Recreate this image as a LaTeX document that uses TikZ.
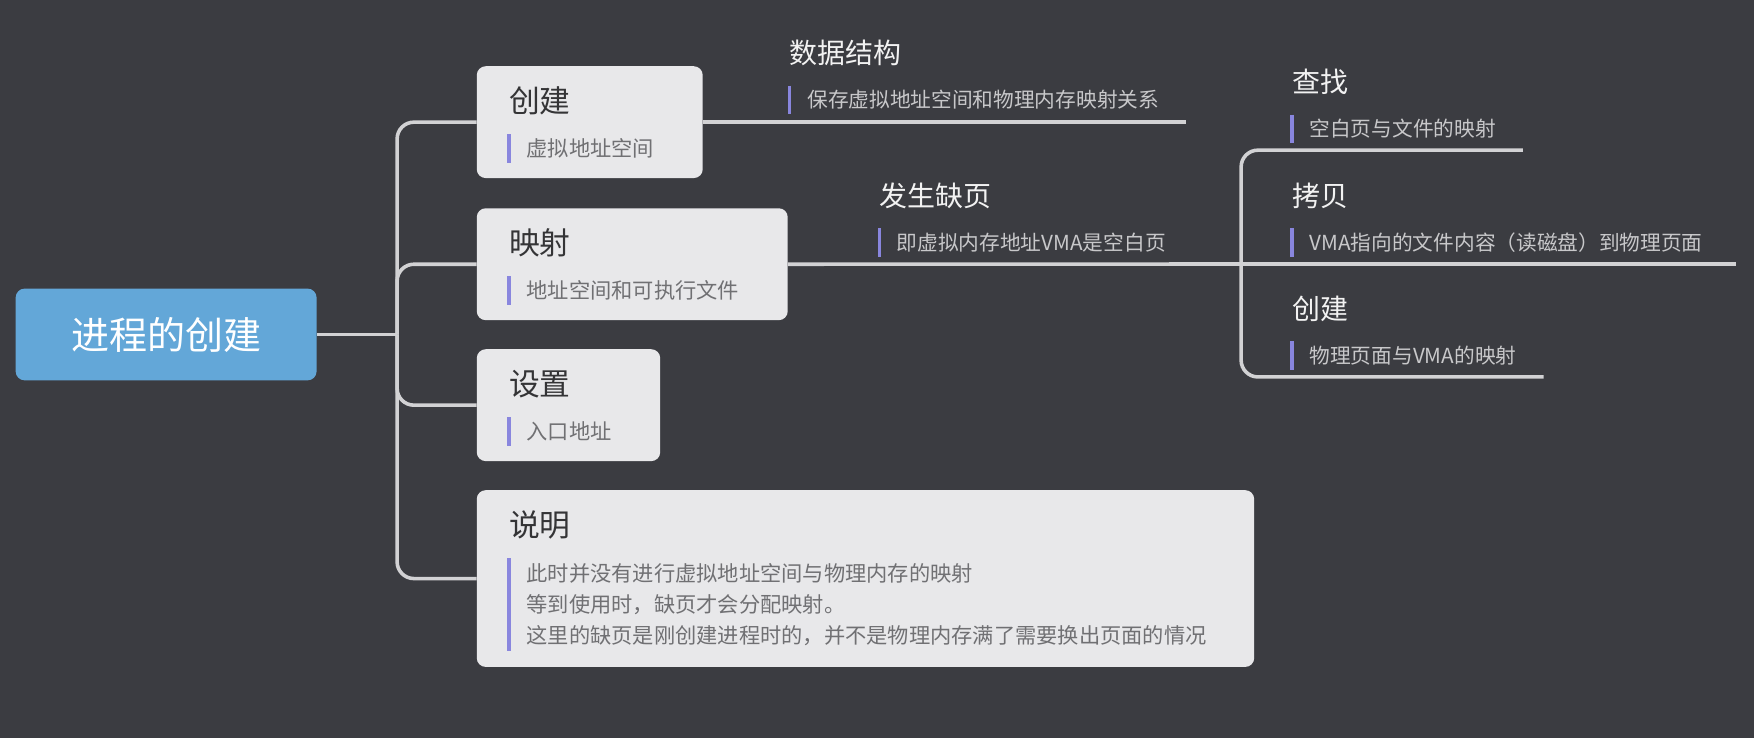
\documentclass[tikz,border=0pt]{standalone}
\usepackage{fontspec}
\setmainfont{Noto Sans CJK SC}
\usetikzlibrary{positioning,calc,backgrounds}
\definecolor{bgdark}{RGB}{59,60,65}
\definecolor{rootblue}{RGB}{99,167,216}
\definecolor{boxgray}{RGB}{232,232,234}
\definecolor{linegray}{RGB}{210,210,212}
\definecolor{titledark}{RGB}{52,52,54}
\definecolor{notegray}{RGB}{112,112,115}
\definecolor{subwhite}{RGB}{242,242,242}
\definecolor{subgray}{RGB}{200,200,202}
\definecolor{barpurple}{RGB}{137,134,222}
\tikzstyle{rootbox} = [rectangle, rounded corners=8pt, fill=rootblue, minimum width=269pt, minimum height=82pt, text=white, font=\fontsize{34}{40}\selectfont]
\tikzstyle{topicbox} = [rectangle, rounded corners=8pt, fill=boxgray, minimum height=100pt, anchor=north west, inner sep=0pt]
\tikzstyle{boxtitle} = [anchor=base west, inner sep=0pt, text=titledark, font=\fontsize{27.5}{33}\selectfont]
\tikzstyle{boxnote} = [anchor=base west, inner sep=0pt, text=notegray, align=left, font=\fontsize{19}{28}\selectfont]
\tikzstyle{subtitle} = [anchor=base west, inner sep=0pt, text=subwhite, font=\fontsize{25}{30}\selectfont]
\tikzstyle{subnote} = [anchor=base west, inner sep=0pt, text=subgray, font=\fontsize{18.5}{26}\selectfont]
\tikzstyle{branch} = [line width=3.2pt, color=linegray, rounded corners=15pt]
\tikzstyle{notebar} = [line width=3pt, color=barpurple]

\begin{document}
\begin{tikzpicture}[x=1pt, y=1pt]

% Canvas
\begin{scope}[on background layer]
    \fill[bgdark] (0,0) rectangle (1568,-659.7);
\end{scope}

% Root
\node[rootbox] (root) at (148.5,-299) {进程的创建};
\coordinate (hub) at (355,-299);

% Main topics
\node[topicbox, minimum width=202pt] (create) at (426,-59) {};
\node[boxtitle, below right=41.5pt and 29pt of create.north west, anchor=base west] (createtitle) {创建};
\node[boxnote, below right=39.6pt and 15.5pt of createtitle.base west, anchor=base west] (createnote) {虚拟地址空间};

\node[topicbox, minimum width=278pt] (map) at (426,-186) {};
\node[boxtitle, below right=41.5pt and 29pt of map.north west, anchor=base west] (maptitle) {映射};
\node[boxnote, below right=39.6pt and 15.5pt of maptitle.base west, anchor=base west] (mapnote) {地址空间和可执行文件};

\node[topicbox, minimum width=164pt] (setup) at (426,-312) {};
\node[boxtitle, below right=41.5pt and 29pt of setup.north west, anchor=base west] (setuptitle) {设置};
\node[boxnote, below right=39.6pt and 15.5pt of setuptitle.base west, anchor=base west] (setupnote) {入口地址};

% three lines: base is the last line
\node[topicbox, minimum width=695pt, minimum height=158pt] (remark) at (426,-438) {};
\node[boxtitle, below right=41.5pt and 29pt of remark.north west, anchor=base west] (remarktitle) {说明};
\node[boxnote, below right=96pt and 15.5pt of remarktitle.base west, anchor=base west] (remarknote) {此时并没有进行虚拟地址空间与物理内存的映射\\等到使用时，缺页才会分配映射。\\这里的缺页是刚创建进程时的，并不是物理内存满了需要换出页面的情况};

% Sub topics
\node[subtitle] (dstitle) at (706,-56.9) {数据结构};
\node[subnote, below right=39.5pt and 15.5pt of dstitle.base west, anchor=base west] (dsnote) {保存虚拟地址空间和物理内存映射关系};

\node[subtitle] (pftitle) at (786,-184.6) {发生缺页};
\node[subnote, below right=39.5pt and 15.5pt of pftitle.base west, anchor=base west] (pfnote) {即虚拟内存地址VMA是空白页};

\node[subtitle] (lktitle) at (1155,-82.8) {查找};
\node[subnote, below right=39.5pt and 15.5pt of lktitle.base west, anchor=base west] (lknote) {空白页与文件的映射};

\node[subtitle] (cptitle) at (1155,-184.6) {拷贝};
\node[subnote, below right=39.5pt and 15.5pt of cptitle.base west, anchor=base west] (cpnote) {VMA指向的文件内容（读磁盘）到物理页面};

\node[subtitle] (mktitle) at (1155,-285.5) {创建};
\node[subnote, below right=39.5pt and 15.5pt of mktitle.base west, anchor=base west] (mknote) {物理页面与VMA的映射};

\coordinate (fork) at (1109.5,-236);

% Branches
\draw[branch] (root.east) -- (hub);
\draw[branch] (hub) |- (create.west);
\draw[branch] (hub) |- (map.west);
\draw[branch] (hub) |- (setup.west);
\draw[branch] (hub) |- (remark.west);
\draw[branch] (create.east) -- ($(create.east -| dsnote.east)+(24,0)$);
\draw[branch] (map.east) -- (fork);
\draw[branch] (fork) |- ($(lknote.east)+(24,-19)$);
\draw[branch] (fork) -- ($(fork -| cpnote.east)+(30,0)$);
\draw[branch] (fork) |- ($(mknote.east)+(24,-19)$);

% Note bars
\draw[notebar] ([xshift=-15.5pt, yshift=4pt]createnote.north west) -- ([xshift=-15.5pt, yshift=-4pt]createnote.south west);
\draw[notebar] ([xshift=-15.5pt, yshift=4pt]mapnote.north west) -- ([xshift=-15.5pt, yshift=-4pt]mapnote.south west);
\draw[notebar] ([xshift=-15.5pt, yshift=4pt]setupnote.north west) -- ([xshift=-15.5pt, yshift=-4pt]setupnote.south west);
\draw[notebar] ([xshift=-15.5pt, yshift=4pt]remarknote.north west) -- ([xshift=-15.5pt, yshift=-4pt]remarknote.south west);
\draw[notebar] ([xshift=-15.5pt, yshift=4pt]dsnote.north west) -- ([xshift=-15.5pt, yshift=-4pt]dsnote.south west);
\draw[notebar] ([xshift=-15.5pt, yshift=4pt]pfnote.north west) -- ([xshift=-15.5pt, yshift=-4pt]pfnote.south west);
\draw[notebar] ([xshift=-15.5pt, yshift=4pt]lknote.north west) -- ([xshift=-15.5pt, yshift=-4pt]lknote.south west);
\draw[notebar] ([xshift=-15.5pt, yshift=4pt]cpnote.north west) -- ([xshift=-15.5pt, yshift=-4pt]cpnote.south west);
\draw[notebar] ([xshift=-15.5pt, yshift=4pt]mknote.north west) -- ([xshift=-15.5pt, yshift=-4pt]mknote.south west);

\end{tikzpicture}
\end{document}
